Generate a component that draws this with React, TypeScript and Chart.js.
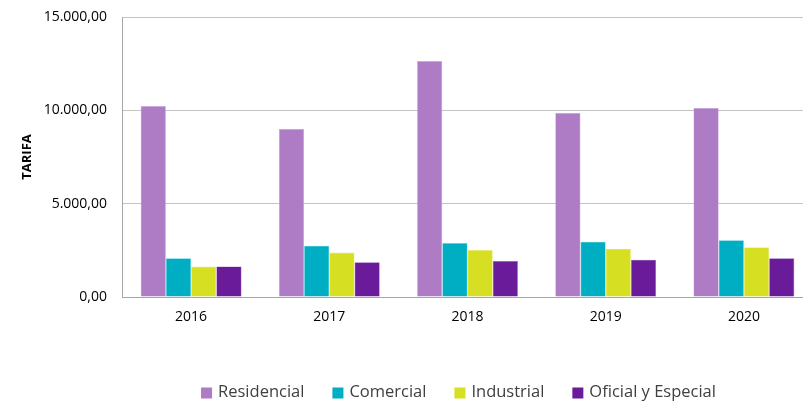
import React, { useEffect, useRef } from "react";
import { Chart, registerables } from "chart.js";

Chart.register(...registerables);

const categories = ["2016", "2017", "2018", "2019", "2020"];
const residencial = [10230, 9000, 12640, 9860, 10130];
const comercial = [2070, 2750, 2890, 2960, 3040];
const industrial = [1630, 2380, 2520, 2590, 2660];
const oficial = [1640, 1860, 1930, 2000, 2070];
const yTicks = [0, 5000, 10000, 15000];
const seriesNames = ["Residencial", "Comercial", "Industrial", "Oficial y Especial"];
const seriesColors = ["#AE7BC5", "#00AEC4", "#D7DF23", "#6A1B9A"];
const seriesEdges = ["#C9A6DA", "#5FD0DE", "#E6EC7A", "#9C6CC0"];

const FONT = '"Open Sans", "Liberation Sans", sans-serif';

function fmt(v: number): string {
  const parts = Math.round(v).toString().replace(/\B(?=(\d{3})+(?!\d))/g, ".");
  return parts + ",00";
}

const legendPlugin = {
  id: "customLegend",
  afterDraw(chart: any) {
    const ctx = chart.ctx;
    ctx.save();
    ctx.font = `16.5px ${FONT}`;
    ctx.textBaseline = "middle";
    const box = 11;
    const gap = 6;
    const itemGap = 28;
    const widths = seriesNames.map((n) => ctx.measureText(n).width);
    const total = widths.reduce((a, w) => a + box + gap + w, 0) + itemGap * (seriesNames.length - 1);
    let x = 458.5 - total / 2;
    const y = 392;
    seriesNames.forEach((n, i) => {
      ctx.fillStyle = seriesColors[i];
      ctx.fillRect(x, y - box / 2 + 1, box, box);
      ctx.fillStyle = "#404040";
      ctx.fillText(n, x + box + gap, y);
      x += box + gap + widths[i] + itemGap;
    });
    ctx.restore();
  },
};

export default function App() {
  const ref = useRef<HTMLCanvasElement | null>(null);
  useEffect(() => {
    document.body.style.margin = "0";
    document.body.style.overflow = "hidden";
    const data = [residencial, comercial, industrial, oficial];
    const chart = new Chart(ref.current as HTMLCanvasElement, {
      type: "bar",
      data: {
        labels: categories,
        datasets: seriesNames.map((n, i) => ({
          label: n,
          data: data[i],
          backgroundColor: seriesColors[i],
          borderColor: seriesEdges[i],
          borderWidth: 0.6,
          barPercentage: 1,
          categoryPercentage: 0.73,
        })),
      },
      options: {
        animation: false,
        responsive: false,
        maintainAspectRatio: false,
        layout: { padding: { top: 17, right: 7, left: 0, bottom: 0 } },
        plugins: {
          legend: { display: false },
          tooltip: { enabled: false },
        },
        scales: {
          x: {
            grid: { display: false, drawTicks: false },
            border: { display: true, color: "#a6a6a6", width: 1 },
            ticks: { color: "#000", font: { family: FONT, size: 14 }, padding: 12 },
            afterFit: (s: any) => {
              s.height = 108;
              s.paddingLeft = 0;
              s.paddingRight = 0;
            },
          },
          y: {
            min: 0,
            max: 15000,
            afterBuildTicks: (s: any) => {
              s.ticks = yTicks.map((v) => ({ value: v }));
            },
            grid: { color: "#c4c4c4", drawTicks: false, lineWidth: 1 },
            border: { display: true, color: "#a6a6a6", width: 1 },
            ticks: {
              color: "#000",
              font: { family: FONT, size: 14 },
              padding: 15,
              callback: (v: any) => fmt(Number(v)),
            },
            title: {
              display: true,
              text: "TARIFA",
              color: "#000",
              font: { family: FONT, size: 13, weight: "bold" },
              padding: { top: 19, bottom: 0 },
            },
            afterFit: (s: any) => {
              s.width = 122;
              s.paddingTop = 0;
              s.paddingBottom = 0;
            },
          },
        },
      },
      plugins: [legendPlugin],
    });
    return () => chart.destroy();
  }, []);
  return (
    <div style={{ position: "absolute", left: 0, top: 0, width: 803, height: 405, overflow: "hidden", background: "#fff" }}>
      <canvas ref={ref} width={820} height={405} style={{ display: "block" }} />
    </div>
  );
}
